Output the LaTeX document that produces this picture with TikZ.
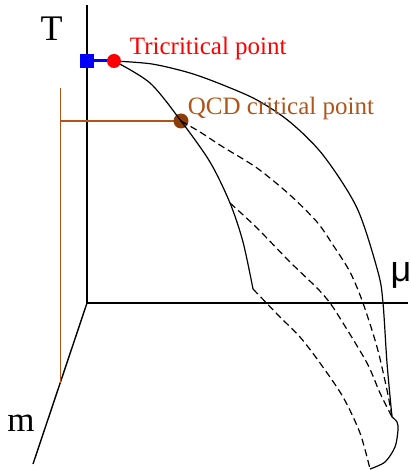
\documentclass[tikz,border=0pt]{standalone}
\usepackage{fontspec}
\setmainfont{Liberation Serif}
\newfontfamily\mufont{Liberation Sans}
\definecolor{cepbrown}{RGB}{140,62,10}
\definecolor{labelbrown}{RGB}{176,84,24}
\begin{document}
\begin{tikzpicture}[
        x=5pt,
        y=5pt,
        axis/.style={draw=black, line width=0.7pt},
        solidline/.style={draw=black, line width=0.6pt},
        dashline/.style={draw=black, line width=0.6pt, dash pattern=on 3.5pt off 2pt},
        guide/.style={draw=labelbrown, line width=0.65pt},
        dot/.style={circle, inner sep=0pt, minimum size=7pt},
        tcpdot/.style={dot, fill=red},
        cepdot/.style={dot, fill=cepbrown, minimum size=7.5pt},
        sqdot/.style={rectangle, fill=blue, inner sep=0pt, minimum size=7pt},
        axlabel/.style={inner sep=0pt, anchor=base, font=\fontsize{18}{20}\selectfont},
        ptlabel/.style={inner sep=0pt, anchor=base west, font=\fontsize{12.5}{14}\selectfont}
    ]
    \useasboundingbox (-8.7,-16.7) rectangle (32.4,30.3);
    % points of the diagram
    \coordinate (O) at (0,0);
    \coordinate (Ttop) at (0,29.8);
    \coordinate (muend) at (32.1,0);
    \coordinate (mend) at (-5.4,-16.1);
    \coordinate (sqpos) at (0,24.2);
    \coordinate (tcp) at (2.7,24.2);
    \coordinate (cep) at (9.4,18.2);
    \coordinate (split) at (14.3,10.0);
    \coordinate (kink) at (16.6,1.4);
    \coordinate (join) at (30.5,-11.4);
    \coordinate (tail) at (28.3,-16.6);
    \coordinate (guidetop) at (-2.65,21.5);
    \coordinate (guidecorner) at (-2.65,18.2);
    \coordinate (guidefoot) at (-2.65,-8.0);
    % axes
    \draw[axis] (Ttop) -- (O) -- (muend);
    \draw[axis] (O) -- (mend);
    \node[axlabel] (Tlab) at (-3.55,26.2) {T};
    \node[axlabel] (mulab) at (31.4,2.1) {\mufont μ};
    \node[axlabel, font=\fontsize{17.5}{20}\selectfont] (mlab) at (-6.6,-12.8) {m};
    % projection of the critical point
    \draw[guide] (guidetop) -- (guidefoot);
    \draw[guide] (guidecorner) -- (cep);
    \node[cepdot] (cepnode) at (cep) {};
    % phase boundaries
    \draw[solidline] plot[smooth] coordinates {(tcp) (6.5,23.9) (10.3,23.0) (13.6,21.8) (17.0,20.3) (20.3,18.1) (23.6,14.8) (27.0,9.5) (29.1,3.1) (29.6,0) (30.0,-6.0) (join)};
    \draw[solidline] plot[smooth] coordinates {(join) (31.0,-11.9) (31.1,-12.7) (30.8,-14.4) (29.8,-15.9) (tail)};
    \draw[solidline] plot[smooth] coordinates {(tcp) (6.3,22.0) (cep) (12.3,14.1) (split) (15.6,6.1) (kink)};
    \draw[dashline] plot[smooth] coordinates {(cep) (11.3,17.1) (13.6,15.6) (17.0,13.5) (20.3,10.8) (23.0,8.1) (24.6,5.8) (26.3,3.1) (27.6,0) (29.0,-4.4) (30.0,-8.7) (join)};
    \draw[dashline] plot[smooth] coordinates {(split) (17.0,7.5) (20.3,4.1) (23.0,1.5) (24.3,0) (25.6,-2.0) (28.0,-6.0) (29.3,-9.0) (join)};
    \draw[dashline] plot[smooth] coordinates {(kink) (19.3,-1.4) (21.3,-3.4) (23.3,-6.0) (25.6,-9.4) (27.3,-13.0) (tail)};
    % tricritical point
    \draw[blue, line width=1.5pt] (sqpos) -- (tcp);
    \node[sqdot] (sq) at (sqpos) {};
    \node[tcpdot] (tcpnode) at (tcp) {};
    \node[ptlabel, text=red] (tcplab) at (4.25,24.8) {Tricritical point};
    \node[ptlabel, text=labelbrown] (ceplab) at (10.05,18.8) {QCD critical point};
\end{tikzpicture}
\end{document}
